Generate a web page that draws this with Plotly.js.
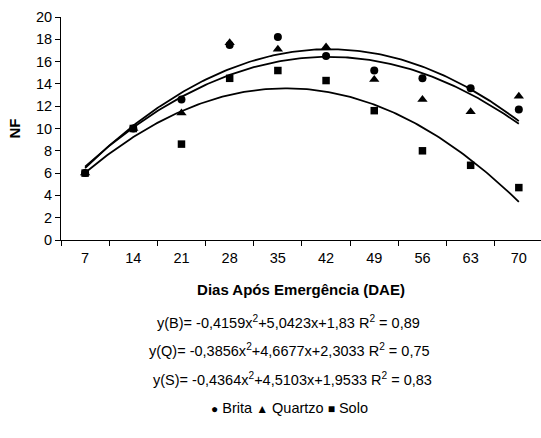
<!DOCTYPE html>
<html>
<head>
<meta charset="utf-8">
<script src="https://cdn.plot.ly/plotly-3.0.1.min.js"></script>
<style>html,body{margin:0;padding:0;background:#fff}#chart{width:541px;height:438px}</style>
</head>
<body>
<div id="chart"></div>
<script>
// Categories (days after emergence)
const dae = ["7", "14", "21", "28", "35", "42", "49", "56", "63", "70"];
const idx = [1, 2, 3, 4, 5, 6, 7, 8, 9, 10];
// Observed NF values
const brita   = [6.0, 10.0, 12.6, 17.5, 18.2, 16.5, 15.2, 14.5, 13.6, 11.7];
const quartzo = [6.0, 10.0, 11.4, 17.7, 17.1, 17.3, 14.4, 12.6, 11.5, 12.9];
const solo    = [6.0, 10.0,  8.6, 14.5, 15.2, 14.3, 11.6,  8.0,  6.7,  4.7];
// Printed polynomial trendline coefficients [a, b, c] for y = a x^2 + b x + c
const coefB = [-0.4159, 5.0423, 1.83];
const coefQ = [-0.3856, 4.6677, 2.3033];
const coefS = [-0.4364, 4.5103, 1.9533];
const eqTexts = [
  "y(B)= -0,4159x<sup>2</sup>+5,0423x+1,83 R<sup>2</sup> = 0,89",
  "y(Q)= -0,3856x<sup>2</sup>+4,6677x+2,3033 R<sup>2</sup> = 0,75",
  "y(S)= -0,4364x<sup>2</sup>+4,5103x+1,9533 R<sup>2</sup> = 0,83"
];

function trend(c) {
  const xs = [], ys = [];
  for (let i = 0; i <= 180; i++) {
    const x = 1 + i * 0.05;
    xs.push(x);
    ys.push(c[0] * x * x + c[1] * x + c[2]);
  }
  return {x: xs, y: ys};
}

const FONT = "Liberation Sans, Arial, sans-serif";
const traces = [];
[coefB, coefQ, coefS].forEach((c, i) => {
  const t = trend(c);
  traces.push({x: t.x, y: t.y, mode: "lines", type: "scatter",
    line: {color: "#000", width: 1.8}, showlegend: false, hoverinfo: "skip",
    name: ["Brita", "Quartzo", "Solo"][i] + " (trend)"});
});
traces.push({x: idx, y: brita, mode: "markers", type: "scatter", name: "Brita",
  marker: {symbol: "circle", size: 8, color: "#000"}, showlegend: false});
traces.push({x: idx, y: quartzo, mode: "markers", type: "scatter", name: "Quartzo",
  marker: {symbol: "triangle-up", size: 9, color: "#000"}, showlegend: false});
traces.push({x: idx, y: solo, mode: "markers", type: "scatter", name: "Solo",
  marker: {symbol: "square", size: 7.5, color: "#000"}, showlegend: false});

const eqX = [0.473, 0.477, 0.482];
const eqY = [-0.366, -0.494, -0.622];
const annotations = eqTexts.map((t, i) => ({
  text: t, xref: "paper", yref: "paper", x: eqX[i], y: eqY[i],
  xanchor: "center", yanchor: "middle", showarrow: false,
  font: {family: FONT, size: 14.5, color: "#000"}
}));
annotations.push({
  text: '<span style="font-size:12px">●</span> Brita <span style="font-size:12px">▲</span> Quartzo <span style="font-size:12px">■</span> Solo',
  xref: "paper", yref: "paper", x: 0.477, y: -0.753,
  xanchor: "center", yanchor: "middle", showarrow: false,
  font: {family: FONT, size: 14.5, color: "#000"}
});

const layout = {
  width: 541, height: 438,
  margin: {l: 61, r: 0, t: 17, b: 198},
  paper_bgcolor: "#fff", plot_bgcolor: "#fff",
  font: {family: FONT, size: 14, color: "#000"},
  showlegend: false,
  xaxis: {
    range: [0.5, 10.46], tickmode: "array", tickvals: idx, ticktext: dae,
    ticks: "outside", ticklen: 5, tickcolor: "rgba(0,0,0,0)",
    minor: {tickmode: "array", tickvals: [0.5,1.5,2.5,3.5,4.5,5.5,6.5,7.5,8.5,9.5],
            ticks: "outside", ticklen: 5, tickcolor: "#000", tickwidth: 1, showgrid: false},
    showline: true, linecolor: "#000", linewidth: 1, showgrid: false, zeroline: false,
    tickfont: {family: FONT, size: 14.5},
    title: {text: "<b>Dias Após Emergência (DAE)</b>", font: {family: FONT, size: 15}, standoff: 19}
  },
  yaxis: {
    range: [0, 20], dtick: 2, ticks: "outside", ticklen: 5, tickcolor: "#000",
    showline: true, linecolor: "#000", linewidth: 1, showgrid: false, zeroline: false,
    tickfont: {family: FONT, size: 14.5},
    title: {text: "<b>NF</b>", font: {family: FONT, size: 15}, standoff: 11}
  },
  annotations: annotations
};

Plotly.newPlot("chart", traces, layout, {displayModeBar: false, staticPlot: true});
</script>
</body>
</html>
